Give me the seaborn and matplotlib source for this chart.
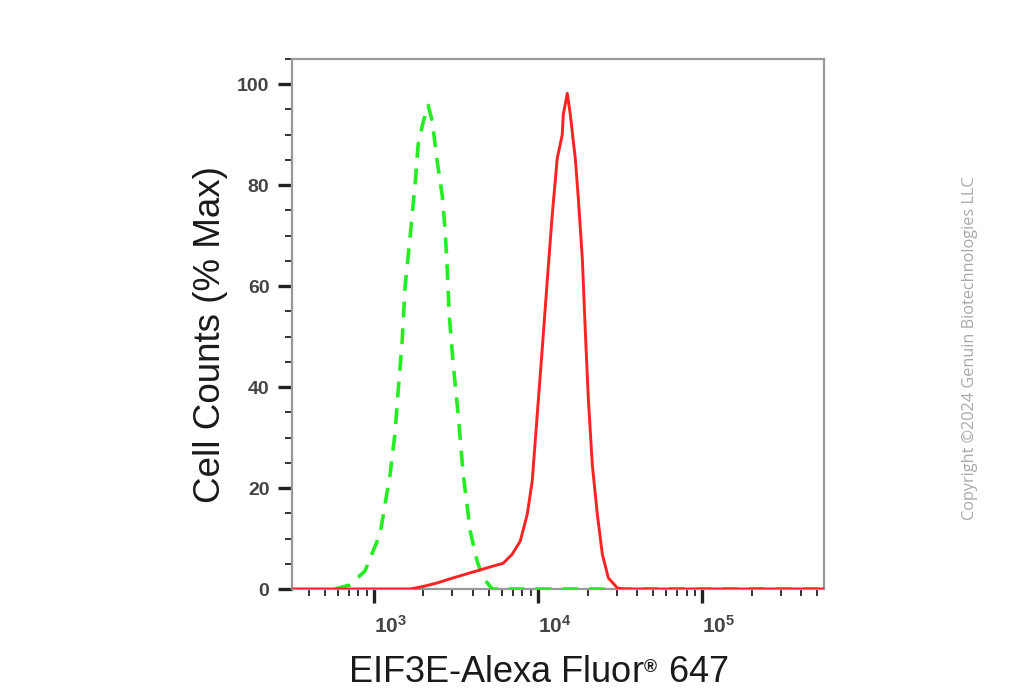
import numpy as np
import matplotlib
matplotlib.use('Agg')
import matplotlib.pyplot as plt
from matplotlib import font_manager
from matplotlib.ticker import MultipleLocator, LogLocator, NullFormatter
import seaborn as sns

# ----- data (fluorescence, % of max) -----
# isotype control, green dashed
ctrl_fluor = [578, 714, 881, 1088, 1253, 1343, 1400, 1482, 1546, 1660, 1780, 1855, 1990, 2135,
              2260, 2422, 2600, 2711, 2788, 2866, 3032, 3252, 3490, 3849, 4244, 4620, 5250, 550000]
ctrl_pct = [0, 0.8, 3.6, 10.9, 22.8, 31, 39, 49, 60, 70, 80.5, 88, 92.5, 95.8,
            92.7, 84.8, 78, 71, 63.6, 54.5, 44.6, 34.6, 22.8, 11.5, 5.5, 2.2, 0, 0]

# EIF3E stained, red solid
eif_fluor = [315, 1660, 1990, 2422, 3032, 3849, 4886, 6120, 6940, 7770, 8570, 9190, 9860, 10580,
             11340, 12170, 13050, 14000, 14200, 15030, 15670, 16810, 17540, 18550, 19350, 20180,
             21330, 22900, 24560, 26720, 30330, 32990, 550000]
eif_pct = [0, 0, 0.5, 1.2, 2.2, 3.2, 4.2, 5.1, 6.9, 9.5, 14.8, 21.4, 34.6, 47.7,
           61, 74.2, 85.3, 90, 94, 98.2, 94, 85.3, 77.4, 65.5, 51, 37.8,
           24.7, 14.8, 6.9, 2.2, 0.2, 0, 0]

x_ticks = [1e3, 1e4, 1e5]
x_ticklabels = [r'$10^{3}$', r'$10^{4}$', r'$10^{5}$']
y_ticks = [0, 20, 40, 60, 80, 100]

sns.set_style('ticks')
names = {f.name for f in font_manager.fontManager.ttflist}
tick_font = 'Liberation Sans Narrow' if 'Liberation Sans Narrow' in names else 'Liberation Sans'
plt.rcParams['font.family'] = ['Liberation Sans', 'DejaVu Sans']
plt.rcParams['mathtext.fontset'] = 'custom'
plt.rcParams['mathtext.rm'] = 'Liberation Sans:bold'
plt.rcParams['mathtext.it'] = 'Liberation Sans:bold'
plt.rcParams['mathtext.bf'] = 'Liberation Sans:bold'

fig = plt.figure(figsize=(10.24, 7), dpi=100)
ax = fig.add_axes([291.7 / 1024, 1 - 589 / 700, (824 - 291.7) / 1024, (589 - 59) / 700])
ax.set_xscale('log')

sns.lineplot(x=ctrl_fluor, y=ctrl_pct, ax=ax, sort=False, estimator=None,
             color='#22ee22', linewidth=2.6, zorder=3)
ax.lines[-1].set_linestyle((0, (4.4, 3.0)))
sns.lineplot(x=eif_fluor, y=eif_pct, ax=ax, sort=False, estimator=None,
             color='#ff2222', linewidth=2.1, zorder=4)

ax.set_xlim(315, 5.5e5)
ax.set_ylim(0, 105)

# 坐标轴刻度
ax.set_xticks(x_ticks, labels=x_ticklabels)
ax.xaxis.set_minor_locator(LogLocator(base=10, subs=np.arange(2, 10)))
ax.xaxis.set_minor_formatter(NullFormatter())
ax.set_yticks(y_ticks, labels=[str(v) for v in y_ticks])
ax.yaxis.set_minor_locator(MultipleLocator(5))

ax.tick_params(axis='both', which='both', bottom=True, left=True, top=False, right=False)
ax.tick_params(axis='both', which='major', direction='out', length=10, width=2.4,
               color='#222222', labelcolor='#444444', labelsize=13)
ax.tick_params(axis='both', which='minor', direction='out', length=5, width=1.4,
               color='#333333')
ax.tick_params(axis='x', which='major', pad=9, labelsize=15)
ax.tick_params(axis='y', which='major', pad=6, labelsize=14)
for lbl in ax.get_xticklabels():
    lbl.set_horizontalalignment('left')
for lbl in ax.get_yticklabels():
    lbl.set_family(tick_font)
    lbl.set_fontweight('bold')

for s in ax.spines.values():
    s.set_color('#999999')
    s.set_linewidth(1.6)

ax.set_xlabel('EIF3E-Alexa Fluor$^{{}_{®}}$ 647', fontsize=26, color='#1a1a1a', va='baseline')
ax.xaxis.set_label_coords((538.5 - 291.7) / 532.3, (589 - 682) / 530)
ax.set_ylabel('Cell Counts (% Max)', fontsize=26.5, color='#1a1a1a', va='baseline')
ax.yaxis.set_label_coords((220 - 291.7) / 532.3, (589 - 335) / 530)

fig.text(970 / 1024, 1 - 348 / 700, 'Copyright ©2024 Genuin Biotechnologies LLC',
         rotation=90, ha='center', va='center', fontsize=11.7, color='#a8a8a8',
         family=['Open Sans', 'DejaVu Sans'])

fig.savefig('out.png', dpi=100)
